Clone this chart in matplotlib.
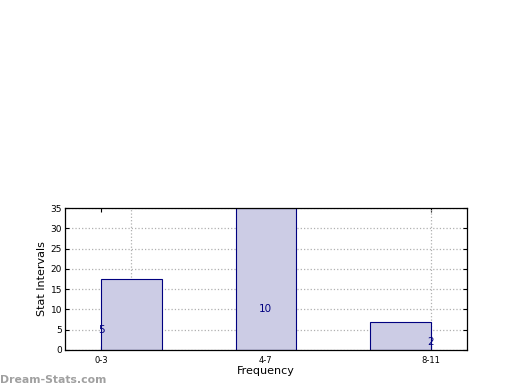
import matplotlib
matplotlib.use("Agg")
import matplotlib.pyplot as plt

# data
intervals = ["0-3", "4-7", "8-11"]
counts = [5, 10, 2]
bar_heights = [17.5, 35, 7]
bar_lefts = [0, 1, 2]
tick_pos = [0, 1.225, 2.45]
grid_pos = [0.225, 1.225, 2.45]

navy = "#000080"

fig = plt.figure(figsize=(5.2, 3.9), dpi=100)
ax = fig.add_axes([0.125, 0.1026, 0.773, 0.364])

ax.bar(bar_lefts, bar_heights, width=0.45, align="edge",
       color="#ccccE5", edgecolor=navy, linewidth=0.8, zorder=2)

for x, c in zip(tick_pos, counts):
    ax.text(x, c, str(c), color=navy, fontsize=7.5, ha="center", va="center", zorder=3)

for g in grid_pos:
    ax.axvline(g, color="#b0b0b0", linestyle=":", linewidth=0.9, zorder=1)
ax.yaxis.grid(True, color="#b0b0b0", linestyle=":", linewidth=0.9, zorder=1)
ax.set_axisbelow(True)

ax.set_xlim(-0.268, 2.72)
ax.set_ylim(0, 35)
ax.set_yticks(range(0, 36, 5))
ax.set_xticks(tick_pos)
ax.set_xticklabels(intervals)
ax.tick_params(axis="x", labelsize=6, direction="in", top=True, length=3, pad=4)
ax.tick_params(axis="y", labelsize=6.5, direction="in", right=True, length=3, pad=2)
for s in ax.spines.values():
    s.set_linewidth(0.9)

ax.set_xlabel("Frequency", fontsize=8, labelpad=1)
ax.set_ylabel("Stat Intervals", fontsize=8, labelpad=3)

fig.text(0.0, 0.012, "Dream-Stats.com", color="#a0a0a0", fontsize=7.8,
         fontweight="semibold", ha="left", va="bottom")

fig.savefig("out.png", dpi=100)
